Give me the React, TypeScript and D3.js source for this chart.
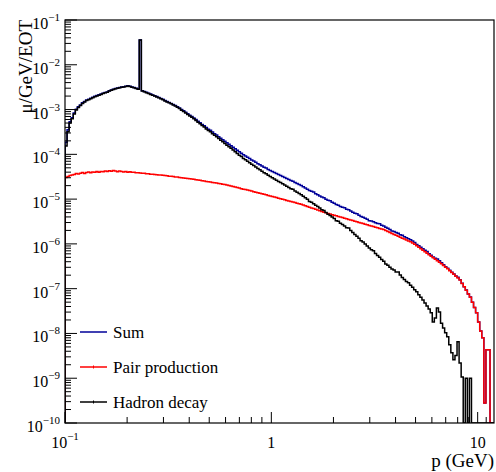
import React from 'react';
import * as d3 from 'd3';

// binning: equal widths in log10(p), starting at p = 0.1 GeV
const LOG_P_START = -1;
const LOG_BIN_WIDTH = 0.01;

// mu / GeV / EOT per bin
const sumTotal = [
  1.85e-4, 3.52e-4, 5.34e-4, 6.55e-4, 8.36e-4, 1.02e-3, 1.15e-3, 1.27e-3, 1.41e-3, 1.52e-3,
  1.64e-3, 1.7e-3, 1.79e-3, 1.88e-3, 1.97e-3, 2.05e-3, 2.14e-3, 2.22e-3, 2.31e-3, 2.4e-3,
  2.48e-3, 2.62e-3, 2.74e-3, 2.85e-3, 2.94e-3, 3.03e-3, 3.11e-3, 3.19e-3, 3.25e-3, 3.32e-3,
  3.39e-3, 3.32e-3, 3.2e-3, 3.09e-3, 2.98e-3, 2.88e-3, 3.58e-2, 2.64e-3, 2.53e-3, 2.42e-3,
  2.31e-3, 2.22e-3, 2.12e-3, 2.04e-3, 1.95e-3, 1.87e-3, 1.77e-3, 1.69e-3, 1.59e-3, 1.51e-3,
  1.44e-3, 1.37e-3, 1.3e-3, 1.23e-3, 1.16e-3, 1.08e-3, 1.0e-3, 9.4e-4, 8.7e-4, 8.1e-4,
  7.5e-4, 6.98e-4, 6.48e-4, 5.97e-4, 5.47e-4, 5.06e-4, 4.66e-4, 4.35e-4, 3.95e-4, 3.64e-4,
  3.44e-4, 3.14e-4, 2.9e-4, 2.69e-4, 2.47e-4, 2.29e-4, 2.12e-4, 1.96e-4, 1.81e-4, 1.68e-4,
  1.56e-4, 1.44e-4, 1.33e-4, 1.23e-4, 1.14e-4, 1.06e-4, 9.8e-5, 9.2e-5, 8.6e-5, 8.05e-5,
  7.5e-5, 7.06e-5, 6.63e-5, 6.19e-5, 5.86e-5, 5.52e-5, 5.18e-5, 4.95e-5, 4.61e-5, 4.38e-5,
  4.14e-5, 3.91e-5, 3.72e-5, 3.53e-5, 3.36e-5, 3.18e-5, 3.03e-5, 2.88e-5, 2.73e-5, 2.59e-5,
  2.52e-5, 2.36e-5, 2.24e-5, 2.13e-5, 2.02e-5, 1.9e-5, 1.78e-5, 1.67e-5, 1.55e-5, 1.49e-5,
  1.44e-5, 1.32e-5, 1.25e-5, 1.18e-5, 1.11e-5, 1.07e-5, 9.95e-6, 9.4e-6, 9.2e-6, 8.5e-6,
  8.07e-6, 7.54e-6, 7.31e-6, 6.88e-6, 6.57e-6, 6.4e-6, 5.93e-6, 5.77e-6, 5.4e-6, 5.11e-6,
  4.84e-6, 4.7e-6, 4.36e-6, 4.11e-6, 3.94e-6, 3.75e-6, 3.57e-6, 3.3e-6, 3.25e-6, 3.13e-6,
  2.97e-6, 2.84e-6, 2.8e-6, 2.6e-6, 2.5e-6, 2.34e-6, 2.23e-6, 2.1e-6, 1.94e-6, 1.89e-6,
  1.79e-6, 1.72e-6, 1.61e-6, 1.56e-6, 1.44e-6, 1.37e-6, 1.3e-6, 1.23e-6, 1.16e-6, 1.08e-6,
  9.7e-7, 9.13e-7, 8.44e-7, 7.76e-7, 7.18e-7, 6.8e-7, 6.05e-7, 5.59e-7, 5.08e-7, 4.77e-7,
  4.57e-7, 4.2e-7, 3.77e-7, 3.43e-7, 3.1e-7, 2.85e-7, 2.58e-7, 2.34e-7, 2.12e-7, 1.93e-7,
  1.79e-7, 1.58e-7, 1.32e-7, 1.1e-7, 9.3e-8, 7.65e-8, 6.5e-8, 4.95e-8, 3.8e-8, 2.9e-8,
  1.8e-8, 1.14e-8, 8.0e-9, 2.8e-10, 4.3e-9, 4.3e-9, 0, 0,
];

const pairProduction = [
  3.05e-5, 3.21e-5, 3.38e-5, 3.47e-5, 3.56e-5, 3.75e-5, 3.65e-5, 3.79e-5, 3.95e-5, 3.75e-5,
  3.95e-5, 4.05e-5, 3.88e-5, 4.05e-5, 3.98e-5, 4.13e-5, 4.0e-5, 4.15e-5, 4.09e-5, 4.26e-5,
  4.13e-5, 4.3e-5, 4.2e-5, 4.35e-5, 4.22e-5, 4.09e-5, 4.26e-5, 4.13e-5, 4.05e-5, 4.15e-5,
  4.0e-5, 4.09e-5, 3.97e-5, 4.0e-5, 3.88e-5, 3.9e-5, 3.84e-5, 3.79e-5, 3.77e-5, 3.69e-5,
  3.69e-5, 3.61e-5, 3.6e-5, 3.54e-5, 3.52e-5, 3.47e-5, 3.45e-5, 3.4e-5, 3.36e-5, 3.31e-5,
  3.26e-5, 3.23e-5, 3.18e-5, 3.13e-5, 3.1e-5, 3.05e-5, 3.0e-5, 2.97e-5, 2.93e-5, 2.9e-5,
  2.85e-5, 2.81e-5, 2.77e-5, 2.72e-5, 2.67e-5, 2.63e-5, 2.57e-5, 2.53e-5, 2.48e-5, 2.44e-5,
  2.4e-5, 2.36e-5, 2.31e-5, 2.28e-5, 2.23e-5, 2.19e-5, 2.15e-5, 2.11e-5, 2.07e-5, 2.01e-5,
  1.96e-5, 1.91e-5, 1.86e-5, 1.81e-5, 1.77e-5, 1.71e-5, 1.67e-5, 1.63e-5, 1.59e-5, 1.55e-5,
  1.51e-5, 1.46e-5, 1.43e-5, 1.39e-5, 1.36e-5, 1.32e-5, 1.28e-5, 1.25e-5, 1.21e-5, 1.18e-5,
  1.14e-5, 1.11e-5, 1.08e-5, 1.05e-5, 1.02e-5, 9.9e-6, 9.65e-6, 9.35e-6, 9.1e-6, 8.8e-6,
  8.6e-6, 8.35e-6, 8.1e-6, 7.9e-6, 7.65e-6, 7.4e-6, 7.1e-6, 6.8e-6, 6.6e-6, 6.35e-6,
  6.15e-6, 5.9e-6, 5.7e-6, 5.5e-6, 5.3e-6, 5.1e-6, 4.95e-6, 4.8e-6, 4.65e-6, 4.5e-6,
  4.37e-6, 4.24e-6, 4.11e-6, 3.98e-6, 3.87e-6, 3.75e-6, 3.63e-6, 3.52e-6, 3.42e-6, 3.31e-6,
  3.21e-6, 3.11e-6, 3.02e-6, 2.93e-6, 2.84e-6, 2.75e-6, 2.67e-6, 2.59e-6, 2.51e-6, 2.43e-6,
  2.36e-6, 2.29e-6, 2.22e-6, 2.15e-6, 2.09e-6, 1.98e-6, 1.89e-6, 1.8e-6, 1.71e-6, 1.63e-6,
  1.55e-6, 1.48e-6, 1.41e-6, 1.34e-6, 1.28e-6, 1.22e-6, 1.16e-6, 1.11e-6, 1.05e-6, 9.85e-7,
  9.1e-7, 8.4e-7, 7.8e-7, 7.2e-7, 6.7e-7, 6.2e-7, 5.7e-7, 5.3e-7, 4.9e-7, 4.55e-7,
  4.2e-7, 3.9e-7, 3.6e-7, 3.3e-7, 3.0e-7, 2.77e-7, 2.52e-7, 2.3e-7, 2.09e-7, 1.9e-7,
  1.72e-7, 1.56e-7, 1.31e-7, 1.1e-7, 9.2e-8, 7.65e-8, 6.4e-8, 4.95e-8, 3.8e-8, 2.9e-8,
  1.8e-8, 1.14e-8, 8.0e-9, 2.8e-10, 4.3e-9, 4.3e-9, 0, 0,
];

const hadronDecay = [
  1.54e-4, 3.2e-4, 5.0e-4, 6.2e-4, 8.0e-4, 9.8e-4, 1.11e-3, 1.23e-3, 1.37e-3, 1.48e-3,
  1.6e-3, 1.66e-3, 1.75e-3, 1.84e-3, 1.93e-3, 2.01e-3, 2.1e-3, 2.18e-3, 2.27e-3, 2.36e-3,
  2.44e-3, 2.58e-3, 2.7e-3, 2.81e-3, 2.9e-3, 2.99e-3, 3.07e-3, 3.15e-3, 3.21e-3, 3.28e-3,
  3.35e-3, 3.28e-3, 3.16e-3, 3.05e-3, 2.94e-3, 2.84e-3, 3.58e-2, 2.6e-3, 2.49e-3, 2.38e-3,
  2.27e-3, 2.18e-3, 2.08e-3, 2.0e-3, 1.91e-3, 1.83e-3, 1.74e-3, 1.66e-3, 1.56e-3, 1.48e-3,
  1.41e-3, 1.34e-3, 1.27e-3, 1.2e-3, 1.13e-3, 1.05e-3, 9.7e-4, 9.1e-4, 8.4e-4, 7.8e-4,
  7.2e-4, 6.7e-4, 6.2e-4, 5.7e-4, 5.2e-4, 4.8e-4, 4.4e-4, 4.1e-4, 3.7e-4, 3.4e-4,
  3.2e-4, 2.9e-4, 2.67e-4, 2.46e-4, 2.25e-4, 2.07e-4, 1.9e-4, 1.75e-4, 1.6e-4, 1.48e-4,
  1.36e-4, 1.25e-4, 1.14e-4, 1.05e-4, 9.6e-5, 8.9e-5, 8.1e-5, 7.6e-5, 7.0e-5, 6.5e-5,
  6.0e-5, 5.6e-5, 5.2e-5, 4.8e-5, 4.5e-5, 4.2e-5, 3.9e-5, 3.7e-5, 3.4e-5, 3.2e-5,
  3.0e-5, 2.8e-5, 2.64e-5, 2.48e-5, 2.34e-5, 2.19e-5, 2.06e-5, 1.94e-5, 1.82e-5, 1.71e-5,
  1.66e-5, 1.52e-5, 1.43e-5, 1.34e-5, 1.25e-5, 1.16e-5, 1.07e-5, 9.9e-6, 8.9e-6, 8.5e-6,
  7.9e-6, 7.3e-6, 6.8e-6, 6.3e-6, 5.8e-6, 5.6e-6, 5.0e-6, 4.6e-6, 4.3e-6, 4.0e-6,
  3.7e-6, 3.3e-6, 3.2e-6, 2.9e-6, 2.7e-6, 2.5e-6, 2.3e-6, 2.25e-6, 1.98e-6, 1.8e-6,
  1.63e-6, 1.48e-6, 1.34e-6, 1.18e-6, 1.1e-6, 1.0e-6, 9.0e-7, 8.1e-7, 7.4e-7, 7.0e-7,
  6.1e-7, 5.5e-7, 5.0e-7, 4.5e-7, 4.1e-7, 3.55e-7, 3.35e-7, 3.0e-7, 2.75e-7, 2.6e-7,
  2.37e-7, 2.35e-7, 2.03e-7, 1.78e-7, 1.61e-7, 1.45e-7, 1.36e-7, 1.19e-7, 1.07e-7, 9.4e-8,
  8.5e-8, 7.3e-8, 6.4e-8, 5.6e-8, 4.8e-8, 4.1e-8, 3.5e-8, 2.9e-8, 1.8e-8, 2.2e-8,
  3.7e-8, 3.0e-8, 1.7e-8, 1.33e-8, 1.03e-8, 8.4e-9, 5.6e-9, 3.7e-9, 2.6e-9, 3.2e-9,
  6.5e-9, 2.2e-9, 1.07e-9, 0, 1.0e-9, 0, 1.0e-9, 0, 0, 0,
  0, 0, 0, 0, 0, 0, 0, 0,
];

const seriesNames = ['Sum', 'Pair production', 'Hadron decay'];
const seriesColors = ['#000099', '#ff0000', '#000000'];
const seriesData = [sumTotal, pairProduction, hadronDecay];

const xMajorTicks = [0.1, 1, 10];
const xMajorLabels = [['10', '−1'], ['1', ''], ['10', '']];
const yExponents = [-1, -2, -3, -4, -5, -6, -7, -8, -9, -10];

const W = 496;
const H = 472;
const FONT = '"Liberation Serif", "Times New Roman", serif';

export default function App() {
  const left = 65, right = 494, top = 20, bottom = 423;

  const x = d3.scaleLog().domain([0.1, 12]).range([left, right]);
  const y = d3.scaleLog().domain([1e-10, 0.1]).range([bottom, top]).clamp(true);

  const edge = (i: number) => Math.pow(10, LOG_P_START + LOG_BIN_WIDTH * i);
  const yv = (v: number) => (v > 0 ? y(v) : bottom);

  const histPath = (vals: number[]) => {
    const p = d3.path();
    p.moveTo(x(edge(0)), bottom);
    vals.forEach((v, i) => {
      p.lineTo(x(edge(i)), yv(v));
      p.lineTo(x(edge(i + 1)), yv(v));
    });
    p.lineTo(x(edge(vals.length)), bottom);
    return p.toString();
  };

  const xMinor: number[] = [];
  [0.1, 1, 10].forEach((d) => {
    for (let k = 2; k <= 9; k++) if (k * d <= 12) xMinor.push(k * d);
  });
  xMinor.push(11);

  const yMinor: number[] = [];
  yExponents.slice(1).forEach((e) => {
    for (let k = 2; k <= 9; k++) yMinor.push(k * Math.pow(10, e));
  });

  const legendY = [332, 367, 402];
  const txt = { fontFamily: FONT };

  return (
    <svg
      width={W}
      height={H}
      style={{ position: 'absolute', left: 0, top: 0, background: '#fff', fontFamily: FONT }}
    >
      <defs>
        <clipPath id="frame-clip">
          <rect x={left} y={top - 1} width={right - left} height={bottom - top + 1} />
        </clipPath>
      </defs>

      {/* histograms */}
      <g clipPath="url(#frame-clip)">
        {seriesData.map((vals, i) => (
          <path
            key={seriesNames[i]}
            d={histPath(vals)}
            fill="none"
            stroke={seriesColors[i]}
            strokeWidth={1.5}
          />
        ))}
      </g>

      {/* frame */}
      <rect x={left} y={top} width={right - left} height={bottom - top} fill="none" stroke="#000" strokeWidth={1.2} />

      {/* y ticks */}
      {yExponents.map((e) => (
        <line key={'ym' + e} x1={left} x2={left + 12} y1={y(Math.pow(10, e))} y2={y(Math.pow(10, e))} stroke="#000" />
      ))}
      {yMinor.map((v, i) => (
        <line key={'yn' + i} x1={left} x2={left + 6} y1={y(v)} y2={y(v)} stroke="#000" />
      ))}
      {yExponents.map((e) => (
        <text key={'yl' + e} x={60} y={y(Math.pow(10, e)) + 9} textAnchor="end" fontSize={16} style={txt}>
          <tspan>10</tspan>
          <tspan dy={-8} fontSize={11}>{'−' + String(-e)}</tspan>
        </text>
      ))}

      {/* x ticks */}
      {xMajorTicks.map((t) => (
        <line key={'xm' + t} x1={x(t)} x2={x(t)} y1={bottom} y2={bottom - 11} stroke="#000" />
      ))}
      {xMinor.map((t, i) => (
        <line key={'xn' + i} x1={x(t)} x2={x(t)} y1={bottom} y2={bottom - 6} stroke="#000" />
      ))}
      {xMajorTicks.map((t, i) => (
        <text key={'xl' + t} x={x(t)} y={448} textAnchor="middle" fontSize={16} style={txt}>
          <tspan>{xMajorLabels[i][0]}</tspan>
          {xMajorLabels[i][1] && (
            <tspan dy={-8} fontSize={11}>{xMajorLabels[i][1]}</tspan>
          )}
        </text>
      ))}

      {/* axis titles */}
      <text x={right} y={467} textAnchor="end" fontSize={19} style={txt}>p (GeV)</text>
      <text transform={`translate(32,${top}) rotate(-90)`} textAnchor="end" fontSize={19} style={txt}>μ/GeV/EOT</text>

      {/* legend */}
      {seriesNames.map((name, i) => (
        <g key={'lg' + name}>
          <line x1={80} x2={107} y1={legendY[i]} y2={legendY[i]} stroke={seriesColors[i]} strokeWidth={1.5} />
          {i > 0 && (
            <line x1={93.5} x2={93.5} y1={legendY[i] - 1.5} y2={legendY[i] + 1.5} stroke={seriesColors[i]} strokeWidth={1} />
          )}
          <text x={113} y={legendY[i] + 5.5} fontSize={17} style={txt}>{name}</text>
        </g>
      ))}
    </svg>
  );
}
